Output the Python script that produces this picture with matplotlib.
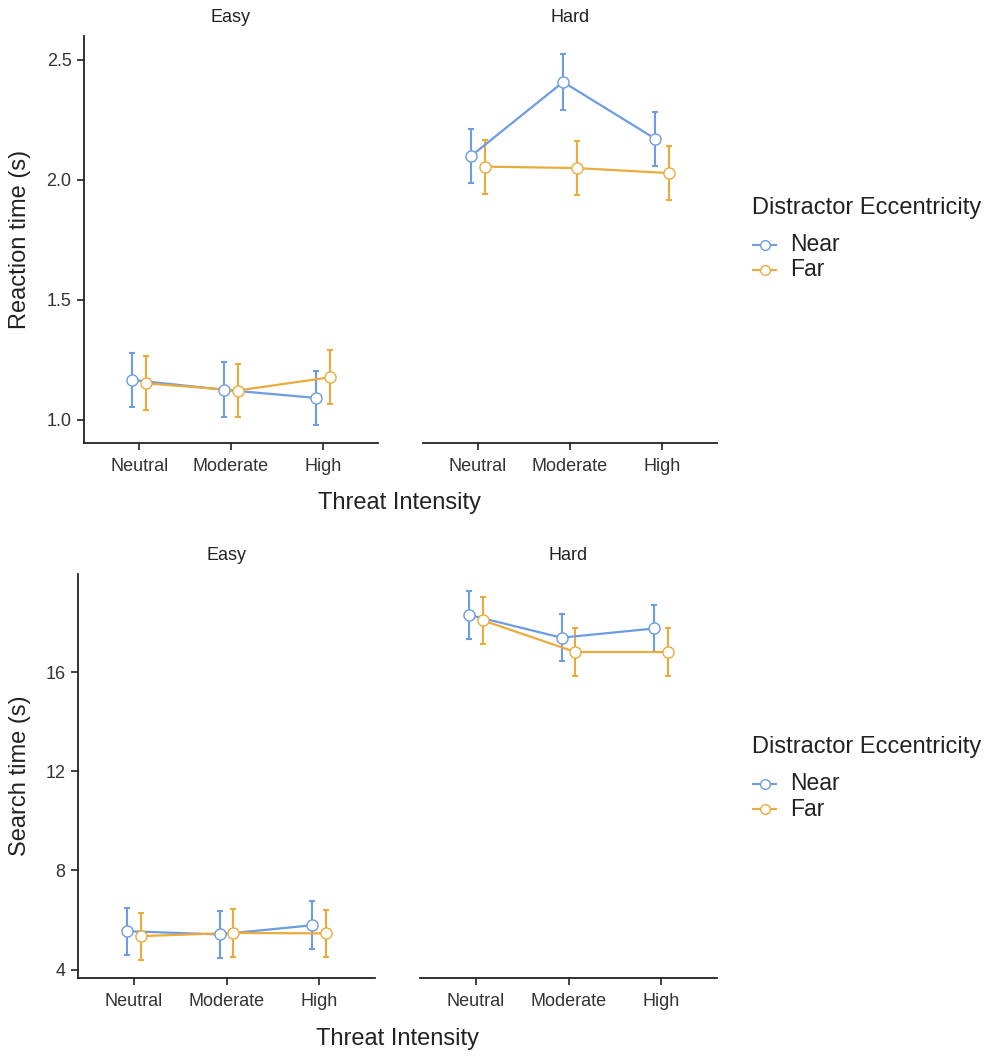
import numpy as np
import matplotlib
matplotlib.use("Agg")
import matplotlib.pyplot as plt
from matplotlib.lines import Line2D

plt.rcParams['font.family'] = ['Liberation Sans', 'DejaVu Sans']

levels = ['Neutral', 'Moderate', 'High']
groups = ['Near', 'Far']
colors = {'Near': '#6C9CE2', 'Far': '#EAAA3C'}

# reaction time (s): means and error half-widths
rt_easy_near = [1.165, 1.124, 1.090]
rt_easy_near_err = [0.112, 0.114, 0.113]
rt_easy_far = [1.151, 1.121, 1.176]
rt_easy_far_err = [0.112, 0.112, 0.113]
rt_hard_near = [2.100, 2.408, 2.172]
rt_hard_near_err = [0.113, 0.116, 0.113]
rt_hard_far = [2.055, 2.049, 2.028]
rt_hard_far_err = [0.113, 0.113, 0.114]

# search time (s)
st_easy_near = [5.55, 5.42, 5.79]
st_easy_near_err = [0.95, 0.96, 0.96]
st_easy_far = [5.35, 5.48, 5.46]
st_easy_far_err = [0.95, 0.97, 0.95]
st_hard_near = [18.32, 17.40, 17.77]
st_hard_near_err = [0.96, 0.95, 0.96]
st_hard_far = [18.10, 16.82, 16.82]
st_hard_far_err = [0.96, 0.95, 0.96]

W, H = 989, 1056
fig = plt.figure(figsize=(W / 100, H / 100), dpi=100)


def px_axes(x0, x1, y0, y1):
    return fig.add_axes([x0 / W, 1 - y1 / H, (x1 - x0) / W, (y1 - y0) / H])


def draw_panel(ax, series, ylim, show_y):
    x = np.arange(1, len(levels) + 1)
    for (name, vals, errs), dx in zip(series, [-0.075, 0.075]):
        c = colors[name]
        ax.errorbar(x + dx, vals, yerr=errs, fmt='none', ecolor=c,
                    elinewidth=1.5, capsize=2, capthick=1.5, zorder=2)
        ax.plot(x + dx, vals, color=c, lw=1.6, zorder=3)
        ax.plot(x + dx, vals, 'o', ms=8, mfc='white', mec=c, mew=1.0,
                zorder=4)
    ax.set_xlim(0.4, 3.6)
    ax.set_ylim(*ylim)
    ax.set_xticks(x)
    ax.set_xticklabels(levels)
    for s in ['top', 'right']:
        ax.spines[s].set_visible(False)
    ax.spines['bottom'].set_linewidth(1.3)
    ax.spines['bottom'].set_color('#222222')
    ax.tick_params(axis='x', length=5, width=1.3, color='#333333',
                   labelsize=13, labelcolor='#333333', pad=6)
    if show_y:
        ax.spines['left'].set_linewidth(1.3)
        ax.spines['left'].set_color('#222222')
        ax.tick_params(axis='y', length=5, width=1.3, color='#333333',
                       labelsize=13, labelcolor='#333333', pad=4)
    else:
        ax.spines['left'].set_visible(False)
        ax.tick_params(axis='y', left=False, labelleft=False)


def legend(y_title):
    fig.text(752 / W, 1 - y_title / H, 'Distractor Eccentricity',
             fontsize=17, color='#222222', va='center', ha='left')
    for i, g in enumerate(groups):
        yy = y_title + 37 + 25 * i
        fig.text(790 / W, 1 - yy / H, g, fontsize=16.5, color='#222222',
                 va='center', ha='left')
        fig.lines.append(Line2D([753 / W, 776 / W], [1 - yy / H, 1 - yy / H],
                                transform=fig.transFigure, color=colors[g],
                                lw=1.5))
        fig.lines.append(Line2D([764.5 / W], [1 - yy / H], marker='o', ms=7,
                                mfc='white', mec=colors[g], mew=1.0,
                                transform=fig.transFigure))


# top row: reaction time
ax1 = px_axes(84, 378, 36, 443)
ax2 = px_axes(423, 717, 36, 443)
draw_panel(ax1, [('Near', rt_easy_near, rt_easy_near_err),
                 ('Far', rt_easy_far, rt_easy_far_err)], (0.902, 2.60), True)
draw_panel(ax2, [('Near', rt_hard_near, rt_hard_near_err),
                 ('Far', rt_hard_far, rt_hard_far_err)], (0.902, 2.60), False)
ax1.set_yticks([1.0, 1.5, 2.0, 2.5])
ax1.set_yticklabels(['1.0', '1.5', '2.0', '2.5'])
fig.text(231 / W, 1 - 17 / H, 'Easy', fontsize=13, color='#222222',
         ha='center', va='center')
fig.text(570 / W, 1 - 17 / H, 'Hard', fontsize=13, color='#222222',
         ha='center', va='center')
fig.text(20 / W, 1 - 239 / H, 'Reaction time (s)', fontsize=17,
         color='#222222', rotation=90, ha='center', va='center')
fig.text(400 / W, 1 - 503 / H, 'Threat Intensity', fontsize=17,
         color='#222222', ha='center', va='center')
legend(208)

# bottom row: search time
ax3 = px_axes(78, 375, 574, 978)
ax4 = px_axes(420, 717, 574, 978)
draw_panel(ax3, [('Near', st_easy_near, st_easy_near_err),
                 ('Far', st_easy_far, st_easy_far_err)], (3.66, 19.97), True)
draw_panel(ax4, [('Near', st_hard_near, st_hard_near_err),
                 ('Far', st_hard_far, st_hard_far_err)], (3.66, 19.97), False)
ax3.set_yticks([4, 8, 12, 16])
fig.text(226 / W, 1 - 556 / H, 'Easy', fontsize=13, color='#222222',
         ha='center', va='center')
fig.text(568 / W, 1 - 556 / H, 'Hard', fontsize=13, color='#222222',
         ha='center', va='center')
fig.text(20 / W, 1 - 776 / H, 'Search time (s)', fontsize=17,
         color='#222222', rotation=90, ha='center', va='center')
fig.text(398 / W, 1 - 1039 / H, 'Threat Intensity', fontsize=17,
         color='#222222', ha='center', va='center')
legend(747)

fig.savefig('out.png', dpi=100, facecolor='white')
